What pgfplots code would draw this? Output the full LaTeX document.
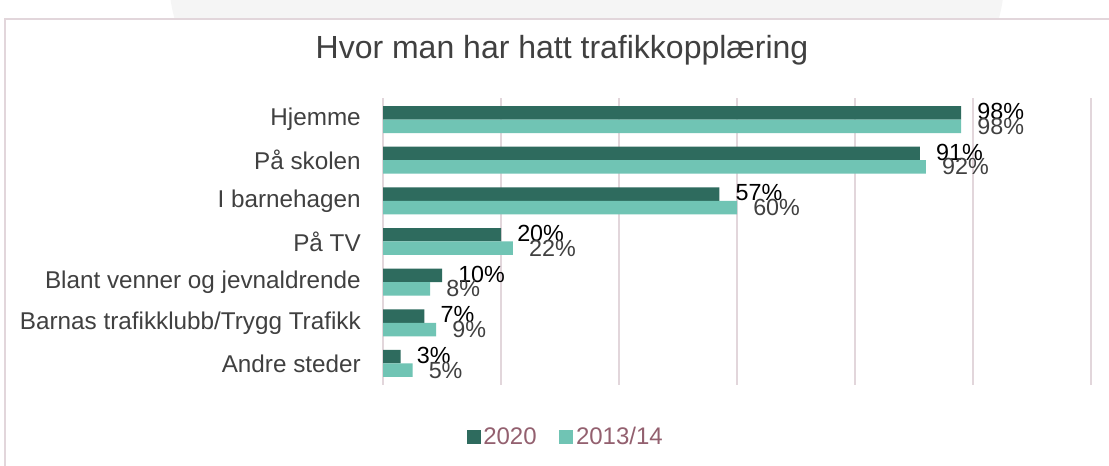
\documentclass[border=0pt]{standalone}
\usepackage{pgfplots}
\pgfplotsset{compat=1.18}
\usepackage{fontspec}
\setmainfont{Liberation Sans}
\definecolor{dark}{HTML}{2E6B5E}
\definecolor{light}{HTML}{70C4B4}
\definecolor{gridc}{HTML}{E2D6DB}
\definecolor{txt}{HTML}{404040}
\definecolor{leg}{HTML}{93606F}
\begin{document}
\begin{tikzpicture}
\useasboundingbox (0,0) rectangle (831.75pt,349.5pt);
\fill[white] (0,0) rectangle (831.75pt,349.5pt);
\fill[black!4] (128pt,349.5pt) .. controls (129pt,343pt) .. (131pt,335.25pt) -- (749pt,335.25pt) .. controls (751pt,343pt) .. (752pt,349.5pt) -- cycle;
\draw[gridc, line width=1pt] (3.75pt,0) -- (3.75pt,335.25pt) -- (831.75pt,335.25pt);
\node[font=\fontsize{24}{28}\selectfont, text=txt] at (421.5pt,312pt) {Hvor man har hatt trafikkopplæring};
\begin{axis}[
  at={(287.25pt,60.75pt)}, anchor=south west,
  scale only axis, width=531pt, height=215.25pt,
  xbar, bar width=10.1pt,
  xmin=0, xmax=120, ymin=-0.53, ymax=6.53,
  xtick={0,20,...,120}, xticklabels={},
  xmajorgrids, grid style={gridc, line width=1pt},
  major tick length=0pt,
  axis line style={draw=none},
  /pgf/number format/assume math mode=true,
  ytick={0,...,6},
  yticklabels={Andre steder,Barnas trafikklubb/Trygg Trafikk,Blant venner og jevnaldrende,På TV,I barnehagen,På skolen,Hjemme},
  yticklabel style={font=\fontsize{18.2}{21}\selectfont, text=txt, inner sep=0pt, xshift=-16.5pt},
  nodes near coords={\pgfmathprintnumber{\pgfplotspointmeta}\%},
  nodes near coords style={font=\fontsize{17.5}{20}\selectfont, anchor=west, inner sep=0pt, xshift=12pt},
  legend style={at={(0.2585,-0.181)}, anchor=center, draw=none, legend columns=2,
    font=\fontsize{18}{20}\selectfont, text=leg,
    /tikz/every even column/.append style={column sep=15pt}},
  legend image code/.code={\fill[#1] (0pt,-5.25pt) rectangle (10.5pt,5.25pt);},
]
\addplot[fill=dark, draw=none, bar shift=5.05pt, nodes near coords style={text=black, yshift=1pt}] coordinates {(3,0) (7,1) (10,2) (20,3) (57,4) (91,5) (98,6)};
\addplot[fill=light, draw=none, bar shift=-5.05pt, nodes near coords style={text=txt}] coordinates {(5,0) (9,1) (8,2) (22,3) (60,4) (92,5) (98,6)};
\legend{2020,2013/14}
\end{axis}
\end{tikzpicture}
\end{document}
